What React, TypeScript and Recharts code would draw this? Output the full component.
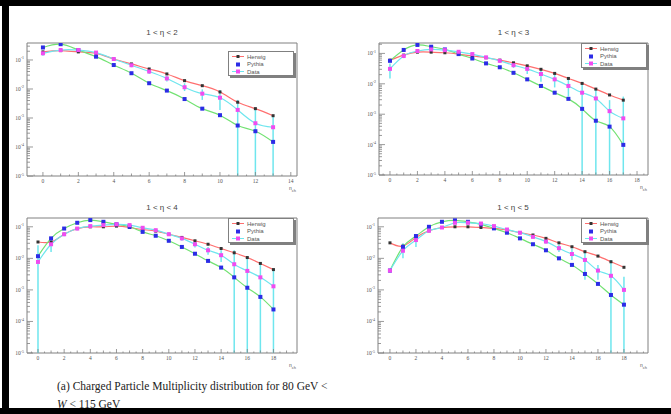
import React from 'react';
import { LineChart, Line, XAxis, YAxis, ReferenceArea, ErrorBar, Legend } from 'recharts';

// 1 < eta < 2
const p1N = [0, 1, 2, 3, 4, 5, 6, 7, 8, 9, 10, 11, 12, 13];
const p1Herwig = [0.19, 0.21, 0.19, 0.17, 0.108, 0.073, 0.049, 0.033, 0.0194, 0.013, 0.0079, 0.0035, 0.0021, 0.0012];
const p1Pythia = [0.27, 0.35, 0.22, 0.13, 0.067, 0.035, 0.0158, 0.0088, 0.0045, 0.0021, 0.00125, 0.00055, 0.00035, 0.00015];
const p1Data = [0.17, 0.22, 0.22, 0.18, 0.108, 0.066, 0.04, 0.023, 0.0115, 0.0069, 0.005, 0.0019, 0.00066, 0.00048];
const p1Lo = [0.14, 0.19, 0.19, 0.155, 0.094, 0.056, 0.033, 0.018, 0.0085, 0.0042, 0.0019, 1e-5, 1e-5, 1e-5];
const p1Hi = [0.2, 0.25, 0.25, 0.205, 0.122, 0.076, 0.047, 0.028, 0.0158, 0.0097, 0.0093, 0.0042, 0.0023, 0.00126];

// 1 < eta < 3
const p2N = [0, 1, 2, 3, 4, 5, 6, 7, 8, 9, 10, 11, 12, 13, 14, 15, 16, 17];
const p2Herwig = [0.06, 0.088, 0.11, 0.11, 0.105, 0.095, 0.082, 0.072, 0.06, 0.049, 0.039, 0.03, 0.022, 0.015, 0.0103, 0.0067, 0.0043, 0.0029];
const p2Pythia = [0.057, 0.13, 0.19, 0.166, 0.135, 0.095, 0.068, 0.047, 0.035, 0.023, 0.014, 0.0085, 0.0051, 0.0032, 0.0015, 0.00061, 0.00039, 0.000098];
const p2Data = [0.031, 0.082, 0.12, 0.135, 0.128, 0.113, 0.095, 0.074, 0.057, 0.041, 0.031, 0.021, 0.014, 0.0085, 0.0051, 0.0033, 0.00126, 0.00073];
const p2Lo = [0.015, 0.07, 0.105, 0.12, 0.114, 0.1, 0.084, 0.065, 0.049, 0.033, 0.021, 0.0117, 0.0076, 0.0038, 1e-5, 1e-5, 1e-5, 1e-5];
const p2Hi = [0.047, 0.095, 0.135, 0.15, 0.142, 0.126, 0.106, 0.083, 0.065, 0.05, 0.041, 0.032, 0.022, 0.015, 0.0109, 0.0071, 0.0029, 0.0038];

// 1 < eta < 4
const p3N = [0, 1, 2, 3, 4, 5, 6, 7, 8, 9, 10, 11, 12, 13, 14, 15, 16, 17, 18];
const p3Herwig = [0.033, 0.033, 0.058, 0.088, 0.1, 0.1, 0.105, 0.095, 0.082, 0.073, 0.058, 0.046, 0.036, 0.028, 0.0205, 0.015, 0.0106, 0.0069, 0.0044];
const p3Pythia = [0.0117, 0.043, 0.088, 0.134, 0.163, 0.144, 0.12, 0.1, 0.069, 0.052, 0.036, 0.023, 0.014, 0.0083, 0.0051, 0.0025, 0.00117, 0.0006, 0.00024];
const p3Data = [0.0077, 0.028, 0.058, 0.088, 0.105, 0.113, 0.12, 0.113, 0.093, 0.078, 0.058, 0.043, 0.028, 0.018, 0.0126, 0.0065, 0.004, 0.0025, 0.0013];
const p3Lo = [1e-5, 0.016, 0.05, 0.078, 0.094, 0.101, 0.108, 0.101, 0.083, 0.069, 0.051, 0.036, 0.022, 0.013, 0.0077, 1e-5, 1e-5, 1e-5, 1e-5];
const p3Hi = [0.026, 0.038, 0.066, 0.098, 0.116, 0.125, 0.132, 0.125, 0.103, 0.087, 0.065, 0.05, 0.034, 0.023, 0.018, 0.018, 0.0112, 0.0069, 0.0048];

// 1 < eta < 5
const p4N = [0, 1, 2, 3, 4, 5, 6, 7, 8, 9, 10, 11, 12, 13, 14, 15, 16, 17, 18];
const p4Herwig = [0.031, 0.0245, 0.046, 0.075, 0.095, 0.1, 0.1, 0.095, 0.089, 0.079, 0.065, 0.055, 0.043, 0.031, 0.0233, 0.0162, 0.0118, 0.0078, 0.0052];
const p4Pythia = [0.0041, 0.023, 0.051, 0.1, 0.144, 0.16, 0.144, 0.12, 0.089, 0.065, 0.043, 0.028, 0.018, 0.01, 0.0062, 0.0032, 0.00155, 0.00069, 0.00034];
const p4Data = [0.0041, 0.0174, 0.038, 0.075, 0.095, 0.134, 0.134, 0.127, 0.105, 0.082, 0.065, 0.048, 0.034, 0.021, 0.0137, 0.0089, 0.0041, 0.0028, 0.001];
const p4Lo = [0.0035, 0.01, 0.023, 0.066, 0.085, 0.12, 0.12, 0.114, 0.094, 0.073, 0.057, 0.042, 0.029, 0.016, 0.0089, 0.0021, 0.0021, 1e-5, 1e-5];
const p4Hi = [0.0047, 0.03, 0.055, 0.085, 0.106, 0.148, 0.148, 0.14, 0.116, 0.091, 0.073, 0.054, 0.039, 0.027, 0.0207, 0.018, 0.0062, 0.0089, 0.0026];

const legendNames = ['Herwig', 'Pythia', 'Data'];
const caption1 = '(a) Charged Particle Multiplicity distribution for 80 GeV <';
const Y_MIN = 1e-5;

const RED = '#ff6f6f';
const GREEN = '#72e272';
const CYAN = '#6fe6ee';
const BLUE = '#2c2ce6';
const MAGENTA = '#f04cf0';
const AXIS = '#808080';
const LABEL = '#555';

const logTicks = (top: number) => {
  const out: number[] = [];
  for (let e = -5; e <= 0; e++) {
    for (let m = 1; m <= 9; m++) {
      const v = m * Math.pow(10, e);
      if (v >= Y_MIN && v <= top) out.push(v);
    }
  }
  return out;
};

const xTicksUpTo = (lo: number, hi: number) => {
  const out: number[] = [];
  for (let v = Math.ceil(lo * 2) / 2; v <= hi; v += 0.5) out.push(v);
  return out;
};

const XTick = (props: any) => {
  const { x, y, payload } = props;
  const v = payload.value;
  const isInt = Math.abs(v - Math.round(v)) < 1e-6;
  const major = isInt && Math.round(v) % 2 === 0;
  const len = major ? 4 : isInt ? 2.5 : 1.5;
  return (
    <g>
      <line x1={x} x2={x} y1={y} y2={y - len} stroke={AXIS} strokeWidth={0.8} />
      {major && (
        <text x={x} y={y + 7} textAnchor="middle" fontSize={5.5} fill={LABEL}>
          {Math.round(v)}
        </text>
      )}
    </g>
  );
};

const YTick = (props: any) => {
  const { x, y, payload } = props;
  const lg = Math.log10(payload.value);
  const e = Math.round(lg);
  const major = Math.abs(lg - e) < 1e-6;
  return (
    <g>
      <line x1={x} x2={x + (major ? 6 : 3)} y1={y} y2={y} stroke={AXIS} strokeWidth={0.8} />
      {major && (
        <text x={x - 3} y={y + 2} textAnchor="end" fontSize={5.5} fill={LABEL}>
          10<tspan dy={-2.5} fontSize={4}>{e}</tspan>
        </text>
      )}
    </g>
  );
};

const square = (size: number, fill: string) => (p: any) => {
  const { cx, cy, index } = p;
  if (cx == null || cy == null) return <g key={index} />;
  return <rect key={index} x={cx - size / 2} y={cy - size / 2} width={size} height={size} fill={fill} />;
};

const LegendBox = () => {
  const lines = [RED, '#ffffff', CYAN];
  const marks = ['#333', BLUE, MAGENTA];
  return (
    <div style={{ width: 66, height: 25, border: `1px solid ${AXIS}`, boxShadow: `2px 2px 0 ${AXIS}`, background: '#fff', fontFamily: 'Liberation Sans, Arial, sans-serif', fontSize: 6, color: LABEL, boxSizing: 'border-box', paddingTop: 1 }}>
      {legendNames.map((name, i) => (
        <div key={name} style={{ display: 'flex', alignItems: 'center', height: 7.5 }}>
          <svg width={18} height={7}>
            <line x1={3} x2={15} y1={3.5} y2={3.5} stroke={lines[i]} strokeWidth={1} />
            <rect x={i === 0 ? 7.5 : 7} y={i === 0 ? 2 : 1.5} width={i === 0 ? 3 : 4} height={i === 0 ? 3 : 4} fill={marks[i]} />
          </svg>
          <span>{name}</span>
        </div>
      ))}
    </div>
  );
};

type PanelProps = {
  title: string;
  n: number[];
  herwig: number[];
  pythia: number[];
  data: number[];
  lo: number[];
  hi: number[];
  left: number;
  top: number;
  width: number;
  height: number;
  xDomain: [number, number];
  yTop: number;
  legendLeft: number;
  legendTop: number;
};

const Panel = (p: PanelProps) => {
  const rows = p.n.map((x, i) => ({
    x,
    herwig: p.herwig[i],
    pythia: p.pythia[i],
    data: p.data[i],
    err: [p.data[i] - p.lo[i], p.hi[i] - p.data[i]],
  }));
  const plotW = p.width - 26;
  return (
    <div style={{ position: 'absolute', left: p.left, top: p.top, width: p.width, height: p.height }}>
      <div style={{ position: 'absolute', left: 22, width: plotW, top: -11, textAlign: 'center', fontFamily: 'Liberation Sans, Arial, sans-serif', fontSize: 8, color: '#444' }}>
        {p.title}
      </div>
      <LineChart width={p.width} height={p.height} data={rows} margin={{ top: 4, right: 4, bottom: 0, left: 0 }}>
        <XAxis
          dataKey="x"
          type="number"
          domain={p.xDomain}
          allowDataOverflow
          ticks={xTicksUpTo(p.xDomain[0], p.xDomain[1])}
          interval={0}
          height={14}
          axisLine={false}
          tickLine={false}
          tickSize={0}
          tickMargin={0}
          tick={XTick}
        />
        <YAxis
          scale="log"
          domain={[Y_MIN, p.yTop]}
          allowDataOverflow
          ticks={logTicks(p.yTop)}
          interval={0}
          width={22}
          axisLine={false}
          tickLine={false}
          tickSize={0}
          tickMargin={0}
          tick={YTick}
        />
        <ReferenceArea x1={p.xDomain[0]} x2={p.xDomain[1]} y1={Y_MIN} y2={p.yTop} fill="none" stroke={AXIS} strokeWidth={1} ifOverflow="visible" />
        <Line type="natural" dataKey="herwig" stroke={RED} strokeWidth={1.2} dot={square(3, '#333')} isAnimationActive={false} />
        <Line type="natural" dataKey="pythia" stroke={GREEN} strokeWidth={1.2} dot={square(4, BLUE)} isAnimationActive={false} />
        <Line type="natural" dataKey="data" stroke={CYAN} strokeWidth={1.2} dot={square(4, MAGENTA)} isAnimationActive={false}>
          <ErrorBar dataKey="err" direction="y" width={0} stroke={CYAN} strokeWidth={1.5} isAnimationActive={false} />
        </Line>
        <Legend
          layout="horizontal"
          align="center"
          verticalAlign="middle"
          content={LegendBox}
          wrapperStyle={{ left: p.legendLeft, top: p.legendTop, width: 'auto', margin: 0 }}
        />
      </LineChart>
      <div style={{ position: 'absolute', left: p.width - 12, top: p.height - 5, lineHeight: '6px', fontFamily: 'Liberation Sans, Arial, sans-serif', fontSize: 5, color: LABEL }}>
        n<sub style={{ fontSize: 4 }}>ch</sub>
      </div>
    </div>
  );
};

export default function App() {
  return (
    <div style={{ position: 'absolute', left: 0, top: 0, width: 671, height: 414, background: '#fff', overflow: 'hidden' }}>
      <Panel title="1 < η < 2" n={p1N} herwig={p1Herwig} pythia={p1Pythia} data={p1Data} lo={p1Lo} hi={p1Hi}
        left={5} top={39} width={296} height={151} xDomain={[-0.9, 14.35]} yTop={0.385} legendLeft={223} legendTop={12} />
      <Panel title="1 < η < 3" n={p2N} herwig={p2Herwig} pythia={p2Pythia} data={p2Data} lo={p2Lo} hi={p2Hi}
        left={357} top={39} width={295} height={150} xDomain={[-0.8, 18.8]} yTop={0.22} legendLeft={224} legendTop={4} />
      <Panel title="1 < η < 4" n={p3N} herwig={p3Herwig} pythia={p3Pythia} data={p3Data} lo={p3Lo} hi={p3Hi}
        left={5} top={214} width={296} height={153} xDomain={[-0.84, 19.8]} yTop={0.19} legendLeft={223} legendTop={4} />
      <Panel title="1 < η < 5" n={p4N} herwig={p4Herwig} pythia={p4Pythia} data={p4Data} lo={p4Lo} hi={p4Hi}
        left={356} top={214} width={296} height={153} xDomain={[-0.92, 19.85]} yTop={0.19} legendLeft={225} legendTop={4} />
      <div style={{ position: 'absolute', left: 57, top: 377, fontFamily: 'Liberation Serif, serif', fontSize: 11.5, lineHeight: '18px', color: '#222', whiteSpace: 'nowrap' }}>
        <div>{caption1}</div>
        <div><i>W</i> &lt; 115 GeV</div>
      </div>
      <div style={{ position: 'absolute', left: 0, top: 0, width: 671, height: 6, background: '#000' }} />
      <div style={{ position: 'absolute', left: 2, top: 0, width: 7, height: 414, background: '#000' }} />
      <div style={{ position: 'absolute', left: 0, top: 408, width: 671, height: 6, background: '#000' }} />
    </div>
  );
}
